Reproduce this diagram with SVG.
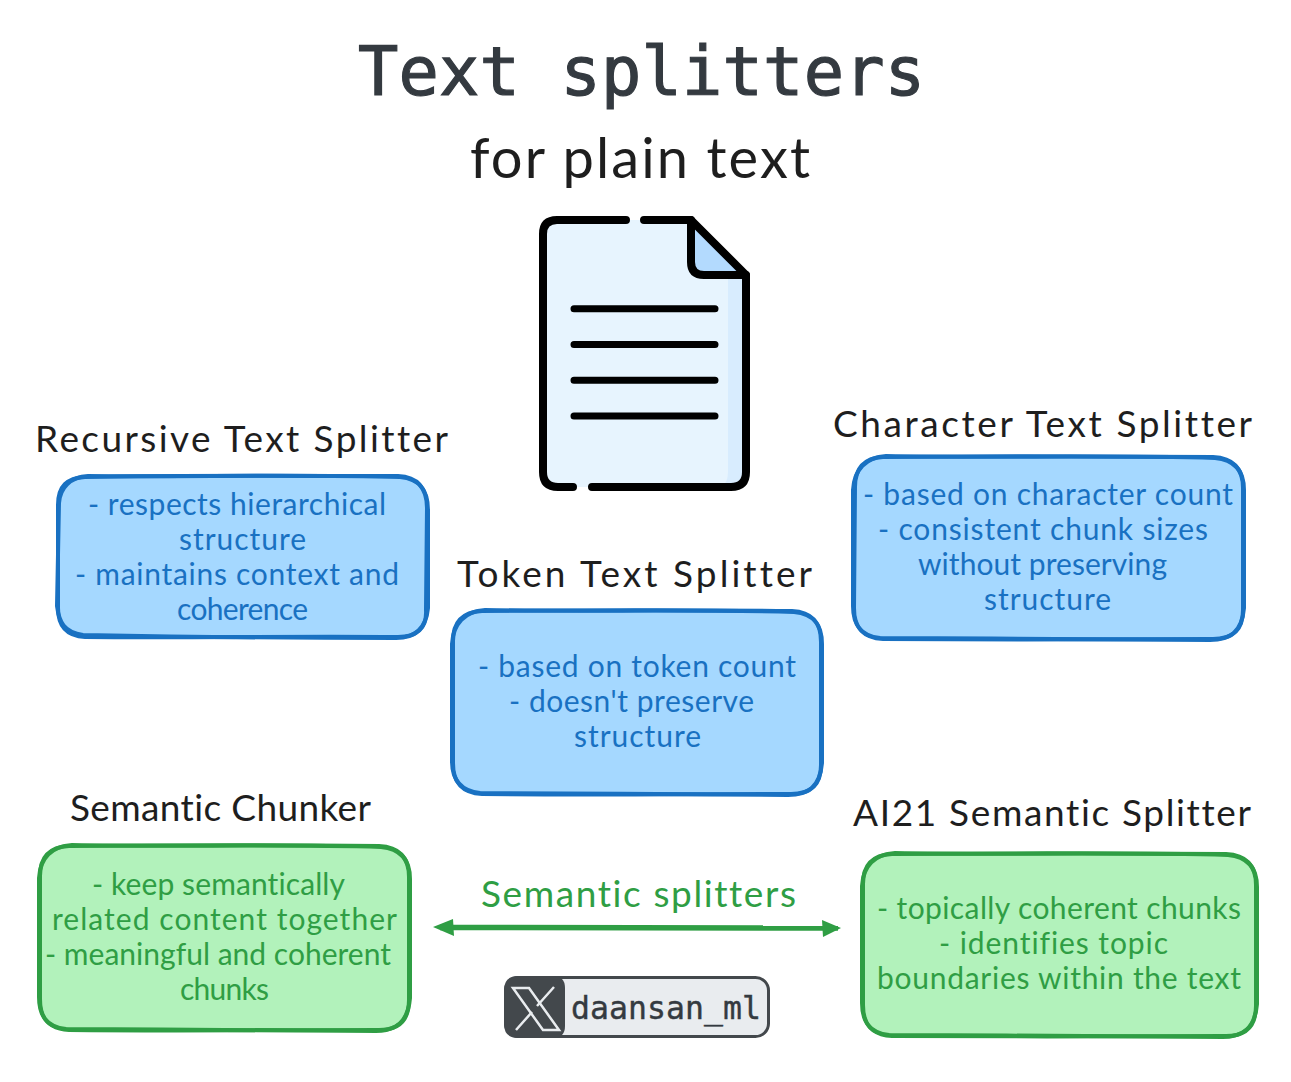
<svg xmlns="http://www.w3.org/2000/svg" width="1291" height="1082" viewBox="0 0 1291 1082">
<style>
text{font-family:"Lato","Noto Sans",sans-serif;text-anchor:start;font-variant-ligatures:none}
.title{font-family:"DejaVu Sans Mono","Liberation Mono",monospace;font-size:67px;fill:#343a40;stroke:#343a40;stroke-width:1.200px}
.sub{font-size:56px;fill:#1e1e1e}
.head{font-size:37px;fill:#1e1e1e}
.bt{font-size:30px;fill:#1971c2}
.gt{font-size:30px;fill:#2f9e44}
.gh{font-size:37px;fill:#2f9e44}
.mono{font-family:"DejaVu Sans Mono","Liberation Mono",monospace;font-size:31.500px;fill:#343a40;stroke:#343a40;stroke-width:.4px}
.bf{fill:#a5d8ff;stroke:none}
.gf{fill:#b2f2bb;stroke:none}
.bs{fill:none;stroke:#1971c2;stroke-width:4;stroke-linecap:round}
.gs{fill:none;stroke:#2f9e44;stroke-width:4;stroke-linecap:round}
.ink{fill:none;stroke:#000;stroke-width:8;stroke-linecap:round;stroke-linejoin:round}
.rule{fill:none;stroke:#000;stroke-width:7;stroke-linecap:round}
</style>
<rect width="1291" height="1082" fill="#fff"/>
<g id="title">
<text class="title" x="358" y="95" textLength="567" lengthAdjust="spacing">Text splitters</text>
<text class="sub" x="470" y="178" textLength="340" lengthAdjust="spacing">for plain text</text>
</g>
<g id="document-icon">
<path d="M556 220H691L746 275V472Q746 487 731 487H558Q543 487 543 472V233Q543 220 556 220Z" fill="#e7f4fe"/>
<path d="M728 275H746V472Q746 487 731 487H722Q728 482 728 472Z" fill="#d8ecfe"/>
<path d="M691 220L746 275H704Q691 275 691 262Z" fill="#b3dafe"/>
<path class="ink" d="M626 220H557Q543 220 543 234V472Q543 487 558 487H573"/>
<path class="ink" d="M592 487H731Q746 487 746 472V275L691 220H644"/>
<path class="ink" d="M691 220V262Q691 275 704 275H746"/>
<path class="rule" d="M574 308.700H715M574 344.500H715M574 380.300H715M574 416H715"/>
</g>
<g id="recursive-text-splitter">
<text class="head" x="35" y="452" textLength="413" lengthAdjust="spacing">Recursive Text Splitter</text>
<path class="bf" d="M85 477C190 475 300 476 398 476C418 477 427 488 427 508L427 610C427 628 417 637 398 637C290 637 190 638 85 637C66 636 58 626 58 608L58 505C58 486 67 478 85 477Z"/>
<path class="bs" d="M85 477C190 475 300 476 398 476C418 477 427 488 427 508L426 610C427 628 417 637 398 637C290 636 190 638 85 637C66 636 58 626 58 608L58 505C58 486 67 478 85 477Z"/>
<path class="bs" d="M88 476C190 477 300 474 400 477C420 479 428 490 428 510L428 608C426 630 414 638 396 638C290 638 190 637 83 635C64 632 59 622 57 606L59 503C60 488 70 477 88 476Z"/>
<text class="bt" x="88" y="515" textLength="298" lengthAdjust="spacing">- respects hierarchical</text>
<text class="bt" x="179" y="550" textLength="127" lengthAdjust="spacing">structure</text>
<text class="bt" x="75" y="585" textLength="324" lengthAdjust="spacing">- maintains context and</text>
<text class="bt" x="177" y="620" textLength="131" lengthAdjust="spacing">coherence</text>
</g>
<g id="character-text-splitter">
<text class="head" x="833" y="437" textLength="419" lengthAdjust="spacing">Character Text Splitter</text>
<path class="bf" d="M883 457C990 456 1110 456 1213 457C1233 458 1243 468 1243 488L1243 610C1243 630 1233 639 1213 639C1110 639 990 640 883 639C863 638 854 628 854 608L855 487C855 467 865 458 883 457Z"/>
<path class="bs" d="M883 457C990 456 1110 456 1213 457C1233 458 1243 468 1243 488L1243 610C1243 630 1233 639 1213 639C1110 639 990 640 883 639C863 638 854 628 854 608L855 487C855 467 865 458 883 457Z"/>
<path class="bs" d="M886 456C990 458 1110 455 1215 458C1236 460 1244 472 1244 490L1244 608C1242 632 1230 640 1210 640C1110 640 990 638 880 638C860 636 853 624 853 606L853 490C854 470 866 457 886 456Z"/>
<text class="bt" x="863" y="505" textLength="370" lengthAdjust="spacing">- based on character count</text>
<text class="bt" x="878" y="540" textLength="330" lengthAdjust="spacing">- consistent chunk sizes</text>
<text class="bt" x="918" y="575" textLength="249" lengthAdjust="spacing">without preserving</text>
<text class="bt" x="984" y="610" textLength="127" lengthAdjust="spacing">structure</text>
</g>
<g id="token-text-splitter">
<text class="head" x="457" y="587" textLength="355" lengthAdjust="spacing">Token Text Splitter</text>
<path class="bf" d="M482 611C580 610 690 610 792 611C812 612 821 622 821 642L821 765C821 785 811 794 791 794C690 794 580 795 482 794C462 793 453 783 453 763L453 641C453 621 463 612 482 611Z"/>
<path class="bs" d="M482 611C580 610 690 610 792 611C812 612 821 622 821 642L821 765C821 785 811 794 791 794C690 794 580 795 482 794C462 793 453 783 453 763L453 641C453 621 463 612 482 611Z"/>
<path class="bs" d="M485 610C580 612 690 609 794 612C815 614 822 626 822 644L822 763C820 787 808 795 788 795C690 795 580 793 480 793C460 791 452 779 452 761L452 644C453 624 465 611 485 610Z"/>
<text class="bt" x="478" y="677" textLength="318" lengthAdjust="spacing">- based on token count</text>
<text class="bt" x="509" y="712" textLength="245" lengthAdjust="spacing">- doesn't preserve</text>
<text class="bt" x="574" y="747" textLength="127" lengthAdjust="spacing">structure</text>
</g>
<g id="semantic-chunker">
<text class="head" x="70" y="821" textLength="301" lengthAdjust="spacing">Semantic Chunker</text>
<path class="gf" d="M69 846C170 845 280 845 379 846C399 847 409 857 409 877L409 1000C409 1020 399 1030 379 1030C280 1030 170 1031 69 1030C49 1029 40 1019 40 999L40 876C40 856 50 847 69 846Z"/>
<path class="gs" d="M69 846C170 845 280 845 379 846C399 847 409 857 409 877L409 1000C409 1020 399 1030 379 1030C280 1030 170 1031 69 1030C49 1029 40 1019 40 999L40 876C40 856 50 847 69 846Z"/>
<path class="gs" d="M72 845C170 847 280 844 381 847C402 849 410 861 410 879L410 998C408 1022 396 1031 376 1031C280 1031 170 1029 66 1029C46 1027 39 1015 39 997L39 878C40 858 52 846 72 845Z"/>
<text class="gt" x="92" y="895" textLength="253" lengthAdjust="spacing">- keep semantically</text>
<text class="gt" x="52" y="930" textLength="345" lengthAdjust="spacing">related content together</text>
<text class="gt" x="45" y="965" textLength="346" lengthAdjust="spacing">- meaningful and coherent</text>
<text class="gt" x="180" y="1000" textLength="89" lengthAdjust="spacing">chunks</text>
</g>
<g id="ai21-semantic-splitter">
<text class="head" x="853" y="826" textLength="398" lengthAdjust="spacing">AI21 Semantic Splitter</text>
<path class="gf" d="M892 854C1000 853 1120 853 1226 854C1246 855 1256 865 1256 885L1256 1006C1256 1026 1246 1036 1226 1036C1120 1036 1000 1037 892 1036C872 1035 863 1025 863 1005L863 884C863 864 873 855 892 854Z"/>
<path class="gs" d="M892 854C1000 853 1120 853 1226 854C1246 855 1256 865 1256 885L1256 1006C1256 1026 1246 1036 1226 1036C1120 1036 1000 1037 892 1036C872 1035 863 1025 863 1005L863 884C863 864 873 855 892 854Z"/>
<path class="gs" d="M895 853C1000 855 1120 852 1228 855C1249 857 1257 869 1257 887L1257 1004C1255 1028 1243 1037 1223 1037C1120 1037 1000 1035 889 1035C869 1033 862 1021 862 1003L862 886C863 866 875 854 895 853Z"/>
<text class="gt" x="877" y="919" textLength="364" lengthAdjust="spacing">- topically coherent chunks</text>
<text class="gt" x="939" y="954" textLength="229" lengthAdjust="spacing">- identifies topic</text>
<text class="gt" x="877" y="989" textLength="364" lengthAdjust="spacing">boundaries within the text</text>
</g>
<g id="connectors">
<path d="M440 927.500L838 928" fill="none" stroke="#2f9e44" stroke-width="5.500"/>
<path d="M433 927L453 919L454 936Z" fill="#2f9e44"/>
<path d="M841 928L822 920L823 937Z" fill="#2f9e44"/>
</g>
<g id="semantic-splitters-label">
<text class="gh" x="481" y="907" textLength="315" lengthAdjust="spacing">Semantic splitters</text>
</g>
<g id="badge">
<rect x="505.500" y="977.500" width="263" height="59" rx="13" fill="#e9ecef" stroke="#43484c" stroke-width="3"/>
<path d="M518 976H553Q565 976 565 988V1026Q565 1038 553 1038H518Q504 1038 504 1024V990Q504 976 518 976Z" fill="#43484c"/>
<path d="M513 988H529L559 1030H543Z" fill="none" stroke="#e9ecef" stroke-width="2.500"/>
<path d="M554 987L537 1006M532 1012L516 1030" fill="none" stroke="#e9ecef" stroke-width="2.500"/>
<text class="mono" x="571" y="1019" textLength="190" lengthAdjust="spacing">daansan_ml</text>
</g>
</svg>
